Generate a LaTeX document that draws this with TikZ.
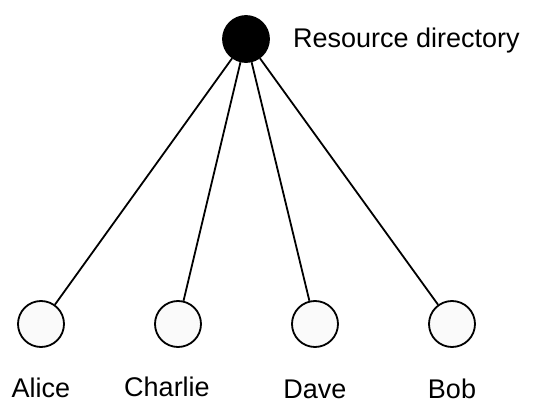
\documentclass[tikz,border=0pt]{standalone}
\usepackage{fontspec}
\setmainfont{Liberation Sans}
\usepackage{tikz}
\usetikzlibrary{positioning}

\begin{document}
\begin{tikzpicture}[x=1pt,y=1pt,font=\fontsize{27}{32}\selectfont,
  rdnode/.style={circle,draw,line width=1.8pt,fill=black,minimum size=46pt,inner sep=0pt},
  peernode/.style={circle,draw,line width=1.8pt,fill=black!2,minimum size=46pt,inner sep=0pt},
  peerlabel/.style={anchor=base,inner sep=0pt}]
\useasboundingbox (0,0) rectangle (542,405);
% directory on top
\node[rdnode] (rd) at (246,366) {};
\node[anchor=base west,inner sep=0pt] (rdlabel) at (293,357) {Resource directory};
% the four peers
\node[peernode] (alice) at (41,81) {};
\node[peernode] (charlie) at (178,81) {};
\node[peernode] (dave) at (315,81) {};
\node[peernode] (bob) at (452,81) {};
% their names
\node[peerlabel] (alicelabel) at (41,7) {Alice};
\node[peerlabel] (charlielabel) at (167,8) {Charlie};
\node[peerlabel] (davelabel) at (315,6) {Dave};
\node[peerlabel] (boblabel) at (452,6) {Bob};
% links to the directory
\foreach \p in {alice,charlie,dave,bob}
  \draw[line width=1.8pt] (rd) -- (\p);
\end{tikzpicture}
\end{document}
